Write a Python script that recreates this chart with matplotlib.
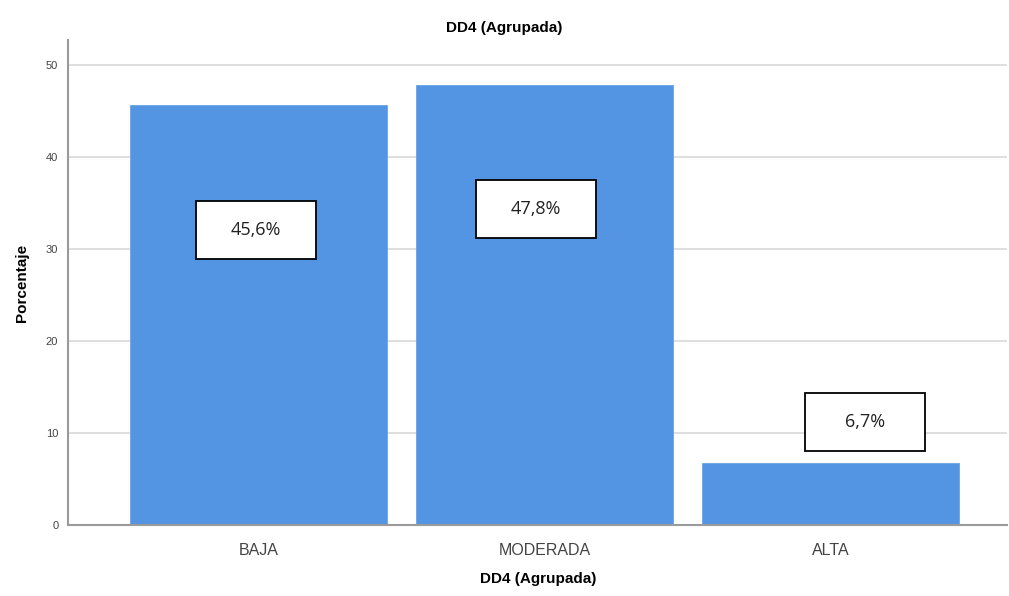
import matplotlib.pyplot as plt
from matplotlib.patches import Rectangle

# data
categories = ['BAJA', 'MODERADA', 'ALTA']
percentages = [45.6, 47.8, 6.7]
labels = ['45,6%', '47,8%', '6,7%']

# layout of the value boxes (data coords)
label_y = [32.0, 34.3, 11.2]
label_dx = [-0.01, -0.03, 0.12]
box_w, box_h = 0.42, 6.3

plt.rcParams['font.family'] = ['Liberation Sans', 'DejaVu Sans']

fig = plt.figure(figsize=(10.09, 5.96), dpi=100)
ax = fig.add_axes([0.0674, 0.119, 0.931, 0.814])

x = range(len(categories))
ax.bar(x, percentages, width=0.9, color='#5495e3', edgecolor='#6aa3e8', linewidth=0.6, zorder=2)

for i, (yl, dx, txt) in enumerate(zip(label_y, label_dx, labels)):
    cx = i + dx
    ax.add_patch(Rectangle((cx - box_w / 2, yl - box_h / 2), box_w, box_h,
                           facecolor='white', edgecolor='black', linewidth=1.3, zorder=3))
    ax.text(cx, yl, txt, ha='center', va='center', fontsize=13, color='#222222',
            family=['Open Sans', 'DejaVu Sans'], zorder=4)

ax.set_xlim(-0.666, 2.619)
ax.set_ylim(0, 52.7)
ax.set_yticks([0, 10, 20, 30, 40, 50])
ax.set_xticks(list(x))
ax.set_xticklabels(categories, fontsize=11.5, color='#444444')
ax.tick_params(axis='y', labelsize=8, colors='#444444', length=0, pad=7)
ax.tick_params(axis='x', length=0, pad=13)
ax.yaxis.grid(True, color='#d9d9d9', linewidth=1.2, zorder=0)
ax.set_axisbelow(True)

for s in ['top', 'right']:
    ax.spines[s].set_visible(False)
for s in ['left', 'bottom']:
    ax.spines[s].set_color('#9a9a9a')
    ax.spines[s].set_linewidth(1.5)

fig.text(0.5, 0.953, 'DD4 (Agrupada)', fontsize=11, fontweight='bold', ha='center', va='center')
ax.set_xlabel('DD4 (Agrupada)', fontsize=11, fontweight='bold', labelpad=10)
ax.set_ylabel('Porcentaje', fontsize=11, fontweight='bold', labelpad=12)

plt.savefig('out.png', dpi=100)
plt.close()
